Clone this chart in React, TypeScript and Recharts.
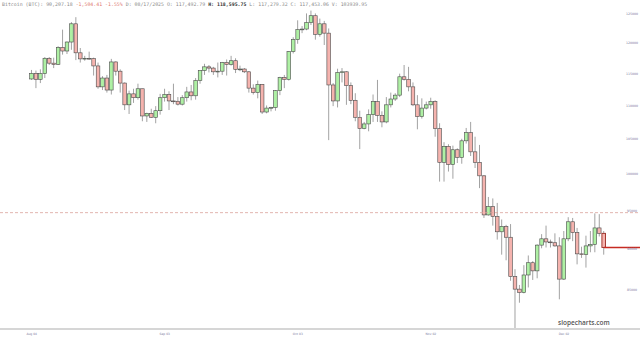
import React from "react";
import { ComposedChart, Bar, XAxis, YAxis, ReferenceLine } from "recharts";

// daily candles, Aug 4 .. Dec 11 2025 (index 0 .. 129)
const opens = [
  114150, 115050, 114100, 115000, 117500, 116700, 116500, 119300, 118700, 120200,
  123300, 118400, 117400, 117493, 117453, 116250, 112900, 114300, 112400, 116900,
  115400, 113500, 110100, 111800, 111200, 112600, 108400, 108800, 108200, 109200,
  111200, 111700, 110700, 110650, 110200, 111200, 112100, 111500, 113900, 115500,
  116100, 115900, 115300, 115400, 116800, 116500, 117100, 115700, 115750, 115300,
  112700, 112000, 113300, 109000, 109600, 109700, 112300, 114400, 114100, 118600,
  120600, 122300, 122400, 123500, 124700, 121500, 123300, 121700, 113200, 110700,
  115200, 115300, 113100, 110800, 108200, 106500, 107200, 108600, 110600, 108500,
  107500, 110100, 111000, 111600, 114500, 114100, 112900, 110100, 108300, 109600,
  110100, 110600, 106500, 101600, 103900, 101300, 103400, 102300, 104700, 105900,
  103100, 101600, 99700, 94400, 95500, 94200, 92200, 92900, 91500, 86600,
  85100, 84700, 86800, 88300, 87300, 90500, 91300, 90900, 90800, 90400,
  86300, 91300, 93500, 92100, 89400, 89300, 90400, 90600, 92700, 92000,
];
const highs = [
  115600, 115500, 115700, 117700, 117700, 117600, 119500, 122300, 120300, 123600,
  124450, 119200, 117900, 118596, 117600, 116800, 114600, 114800, 117400, 117000,
  115700, 113600, 112300, 112600, 113400, 112600, 108900, 109500, 109900, 111800,
  112600, 112200, 113400, 111300, 111600, 112900, 113200, 114300, 115500, 116600,
  116400, 116100, 116800, 116900, 117300, 117900, 117500, 116300, 115900, 115400,
  113300, 113900, 113300, 110000, 109800, 112400, 114500, 114800, 118700, 121000,
  123900, 122900, 125100, 125600, 125100, 124200, 123800, 122500, 113500, 115800,
  115900, 115400, 113600, 111900, 109200, 107500, 109400, 111700, 114000, 109100,
  111300, 112000, 111900, 115000, 116400, 116100, 113600, 111600, 111100, 110600,
  111200, 110800, 107300, 104500, 104200, 104000, 103600, 105000, 106600, 107500,
  105300, 104100, 99800, 96800, 96600, 96000, 93800, 93100, 93200, 87500,
  85600, 88000, 89200, 88500, 90600, 91900, 93000, 91200, 92000, 91500,
  92300, 94100, 94000, 92700, 90300, 91700, 92300, 94600, 94500, 92300,
];
const lows = [
  114000, 112700, 113500, 114300, 116400, 115900, 116400, 118100, 118200, 118900,
  117200, 116800, 117100, 117279, 114700, 112600, 112400, 112000, 111700, 114700,
  112000, 109300, 108700, 110400, 110900, 107600, 107500, 108100, 107300, 108600,
  110600, 109300, 110200, 110000, 110000, 110600, 110800, 110900, 113400, 114800,
  115200, 114800, 114400, 114800, 114700, 116300, 115100, 115400, 115100, 112000,
  111700, 111100, 108700, 108800, 109100, 109200, 111600, 112700, 113900, 118300,
  119900, 121700, 122200, 123100, 120600, 121100, 119700, 104800, 109900, 109700,
  113600, 110100, 110200, 107600, 103500, 106400, 106100, 107500, 107500, 106700,
  107300, 109700, 110700, 111300, 113900, 112200, 109900, 106400, 108000, 109400,
  109500, 105300, 98900, 98900, 100300, 99300, 101500, 101400, 104300, 102500,
  100800, 98000, 94000, 94300, 93000, 91200, 89300, 88600, 86100, 80600,
  83500, 84600, 85300, 86200, 86400, 90100, 90200, 90200, 90300, 83900,
  86200, 91000, 91000, 88100, 88900, 87700, 89600, 89600, 91600, 89300,
];
const closes = [
  115050, 114100, 115000, 117500, 116700, 116500, 119300, 118700, 120200, 123300,
  118400, 117400, 117500, 117453, 116250, 112900, 114300, 112400, 116900, 115400,
  113500, 110100, 111800, 111200, 112600, 108400, 108800, 108200, 109200, 111200,
  111700, 110700, 110650, 110200, 111200, 112100, 111500, 113900, 115500, 116100,
  115900, 115300, 115400, 116800, 116500, 117100, 115700, 115750, 115300, 112700,
  112000, 113300, 109000, 109600, 109700, 112300, 114400, 114100, 118600, 120600,
  122300, 122400, 123500, 124700, 121500, 123300, 121700, 113200, 110700, 115200,
  115300, 113100, 110800, 108200, 106500, 107200, 108600, 110600, 108500, 107500,
  110100, 111000, 111600, 114500, 114100, 112900, 110100, 108300, 109600, 110100,
  110600, 106500, 101600, 103900, 101300, 103400, 102300, 104700, 105900, 103100,
  101600, 99700, 94400, 95500, 94200, 92200, 92900, 91500, 86600, 85100,
  84700, 86800, 88300, 87300, 90500, 91300, 90900, 90800, 90400, 86300,
  91300, 93500, 92100, 89400, 89300, 90400, 90600, 92700, 92000, 90207,
];

const tickIdx = [0, 30, 60, 90, 120];
const tickLabels = ["Aug 04", "Sep 03", "Oct 03", "Nov 02", "Dec 02"];
const yTicks = [85000, 90000, 95000, 100000, 105000, 110000, 115000, 120000, 125000];
const markLevel = 94700;
const lastPrice = 90207;

const data = closes.map((c, i) => ({
  i,
  open: opens[i],
  high: highs[i],
  low: lows[i],
  close: c,
}));
const lastIdx = data.length - 1;
const xMin = -7.15;
const xMax = 130.37; // plot ends at x=610, axis labels to the right
const xEdge = 137.2; // right edge of the picture

const Candle = (props: any) => {
  const { x, y, width, height, payload, index } = props;
  if (x == null || !payload) return null;
  const top = Math.min(y, y + height);
  const h = Math.abs(height);
  const lh = Math.log(payload.high);
  const ll = Math.log(payload.low);
  const toY = (v: number) => top + ((lh - Math.log(v)) / (lh - ll || 1)) * h;
  const up = payload.close >= payload.open;
  const yo = toY(payload.open);
  const yc = toY(payload.close);
  const bt = Math.min(yo, yc);
  const bh = Math.max(Math.abs(yo - yc), 0.8);
  const cx = x + width / 2;
  const last = index === lastIdx;
  return (
    <g>
      <line x1={cx} x2={cx} y1={top} y2={top + h} stroke="#8a8a8a" strokeWidth={0.8} />
      <rect
        x={cx - 1.8}
        y={bt}
        width={3.6}
        height={bh}
        fill={up ? "#aef0a4" : "#f5b3ae"}
        stroke={last ? "#9a2a22" : "#4a4a4a"}
        strokeWidth={last ? 0.9 : 0.6}
      />
    </g>
  );
};

const XTick = ({ x, payload }: any) => (
  <text x={x} y={335} fontSize={3} fill="#7a7aa0" textAnchor="middle" fontFamily="DejaVu Sans">
    {tickLabels[tickIdx.indexOf(payload.value)]}
  </text>
);

const YTick = ({ y, payload }: any) => (
  <text x={632} y={y + 1.2} fontSize={3.2} fill="#7c7ca0" textAnchor="middle" fontFamily="DejaVu Sans">
    {payload.value}
  </text>
);

export default function App() {
  return (
    <div style={{ position: "fixed", left: 0, top: 0, width: 640, height: 340, background: "#fff" }}>
      <ComposedChart width={640} height={340} data={data} margin={{ top: 0, right: 0, bottom: 0, left: 0 }}>
        <XAxis
          type="number"
          dataKey="i"
          domain={[xMin, xMax]}
          ticks={tickIdx}
          interval={0}
          allowDataOverflow
          tick={<XTick />}
          tickLine={false}
          axisLine={false}
          height={11}
        />
        <YAxis
          orientation="right"
          scale="log"
          domain={[80489, 127470]}
          ticks={yTicks}
          interval={0}
          allowDataOverflow
          width={30}
          axisLine={false}
          tickLine={false}
          tick={<YTick />}
        />
        <ReferenceLine
          segment={[{ x: xMin, y: markLevel }, { x: xEdge, y: markLevel }]}
          stroke="#dba39c"
          strokeDasharray="3 2"
          strokeWidth={0.8}
          ifOverflow="visible"
        />
        <ReferenceLine
          segment={[{ x: xMin, y: 80489 }, { x: xEdge, y: 80489 }]}
          stroke="#c8c8c8"
          strokeWidth={1.5}
          ifOverflow="visible"
        />
        <Bar
          dataKey={(d: any) => [d.low, d.high]}
          barSize={4}
          shape={(p: any) => <Candle {...p} />}
          isAnimationActive={false}
        />
        <ReferenceLine
          segment={[{ x: lastIdx, y: lastPrice }, { x: xEdge, y: lastPrice }]}
          stroke="#c62b22"
          strokeWidth={1.5}
          ifOverflow="visible"
        />
      </ComposedChart>
      <div
        style={{
          position: "absolute",
          left: 2,
          top: 2,
          fontFamily: "DejaVu Sans Mono",
          fontSize: 4.9,
          lineHeight: 1,
          color: "#8a8a8a",
          whiteSpace: "pre",
        }}
      >
        {"Bitcoin (BTC): 90,207.18 "}
        <span style={{ color: "#e07a72" }}>{"-1,504.41 -1.55%"}</span>
        {" D: 08/17/2025 O: 117,492.79 "}
        <span style={{ color: "#333", fontWeight: 700 }}>{"H: 118,595.75"}</span>
        {" L: 117,279.32 C: 117,453.06 V: 103939.95"}
      </div>
      <div
        style={{
          position: "absolute",
          left: 558,
          top: 320,
          fontFamily: "Open Sans",
          fontSize: 6.5,
          fontWeight: 600,
          lineHeight: 1,
          color: "#555",
        }}
      >
        slopecharts.com
      </div>
    </div>
  );
}
